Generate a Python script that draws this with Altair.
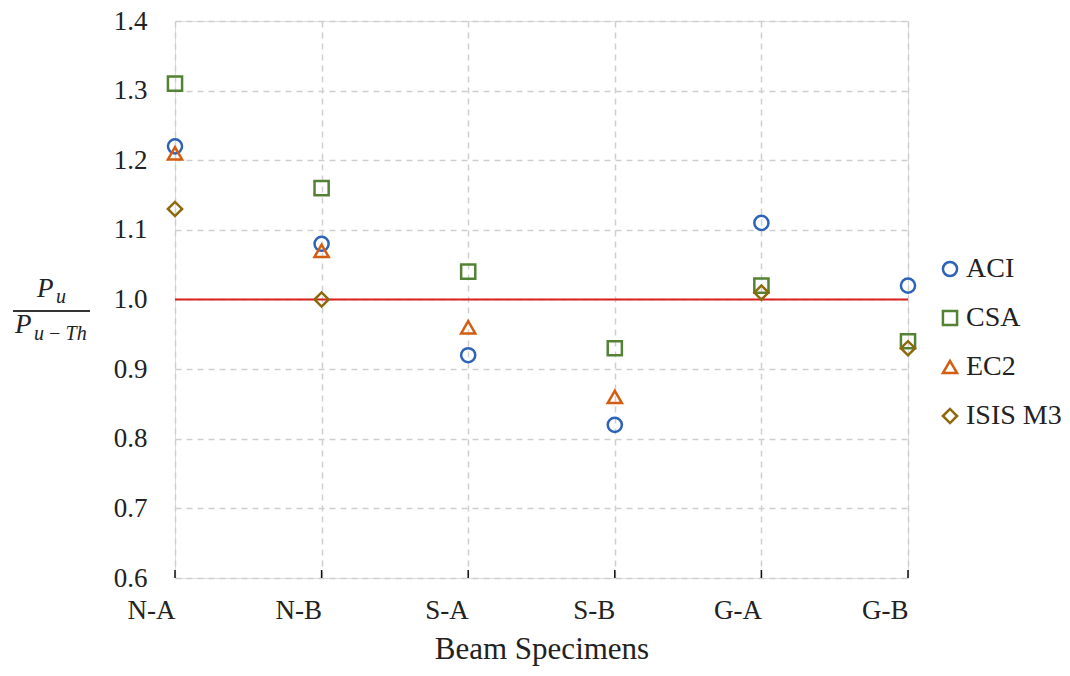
import altair as alt
import pandas as pd

specimens = ["N-A", "N-B", "S-A", "S-B", "G-A", "G-B"]
methods = ["ACI", "CSA", "EC2", "ISIS M3"]

aci = [1.22, 1.08, 0.92, 0.82, 1.11, 1.02]
csa = [1.31, 1.16, 1.04, 0.93, 1.02, 0.94]
ec2 = [1.21, 1.07, 0.96, 0.86, None, None]
isis = [1.13, 1.00, None, None, 1.01, 0.93]

colors = ["#2E63B8", "#548235", "#D45D12", "#8C6A0C"]
shapes = ["circle", "square", "triangle-up", "diamond"]

rows = []
for m, vals in zip(methods, [aci, csa, ec2, isis]):
    for s, v in zip(specimens, vals):
        if v is not None:
            rows.append({"Specimen": s, "Method": m, "Ratio": v})
df = pd.DataFrame(rows)

W, H = 733, 557
FONT = "Liberation Serif"

xscale = alt.Scale(type="point", domain=specimens, padding=0)
yscale = alt.Scale(domain=[0.6, 1.4], nice=False, zero=False)

base = alt.Chart(df)

points = base.mark_point(filled=False, strokeWidth=2.5, size=200, opacity=1).encode(
    x=alt.X("Specimen:N", scale=xscale, sort=specimens,
            axis=alt.Axis(title="Beam Specimens", labelAngle=0, ticks=False,
                          domain=False, grid=True, gridDash=[6, 5], gridColor="#CFCFCF",
                          gridWidth=1.5, labelFontSize=27, labelFont=FONT,
                          labelColor="#222222", labelPadding=32, titleFont=FONT,
                          titleFontSize=31, titleFontWeight="normal", titleColor="#222222",
                          titlePadding=11)),
    y=alt.Y("Ratio:Q", scale=yscale,
            axis=alt.Axis(title=None, values=[0.6, 0.7, 0.8, 0.9, 1.0, 1.1, 1.2, 1.3, 1.4],
                          format=".1f", ticks=False, domain=False, grid=True,
                          gridDash=[6, 5], gridColor="#CFCFCF", gridWidth=1.5,
                          labelFontSize=27, labelFont=FONT, labelColor="#222222",
                          labelPadding=28)),
    color=alt.Color("Method:N", scale=alt.Scale(domain=methods, range=colors),
                    legend=alt.Legend(title=None, orient="none", legendX=761, legendY=234,
                                      labelFont=FONT, labelFontSize=28, labelColor="#222222",
                                      symbolStrokeWidth=2.5, symbolSize=200, rowPadding=21,
                                      labelOffset=2, labelLimit=300,
                                      symbolFillColor="transparent")),
    shape=alt.Shape("Method:N", scale=alt.Scale(domain=methods, range=shapes)),
)

ref = alt.Chart(pd.DataFrame({"v": [1.0]})).mark_rule(color="#D9201E", strokeWidth=2).encode(
    y=alt.Y("v:Q", scale=yscale)
)

ticks_df = pd.DataFrame({"Specimen": specimens})
xticks = alt.Chart(ticks_df).mark_rule(color="#111111", strokeWidth=1.5).encode(
    x=alt.X("Specimen:N", scale=xscale, sort=specimens),
    y=alt.value(H - 8), y2=alt.value(H),
)

one = pd.DataFrame({"a": [0]})

def label(txt, x, y, size, italic=True):
    return alt.Chart(one).mark_text(
        text=txt, font=FONT, fontSize=size, fontStyle="italic" if italic else "normal",
        align="left", baseline="alphabetic", color="#222222"
    ).encode(x=alt.value(x), y=alt.value(y))

num_p = label("P", -138, 276, 27)
num_u = label("u", -119, 282, 20)
den_p = label("P", -160, 312, 27)
den_u = label("u\u2009\u2212\u2009Th", -141, 319, 20)
bar = alt.Chart(one).mark_rule(color="#333333", strokeWidth=2).encode(
    x=alt.value(-162), x2=alt.value(-85), y=alt.value(290)
)

chart = alt.layer(ref, xticks, points, num_p, num_u, den_p, den_u, bar).properties(
    width=W, height=H,
    autosize=alt.AutoSizeParams(type="none"),
    padding={"left": 167, "top": 13, "right": 154, "bottom": 90},
).configure_view(stroke="#111111", strokeWidth=2).configure(background="white")

chart.save("out.html", embed_options={"renderer": "svg", "actions": False})
